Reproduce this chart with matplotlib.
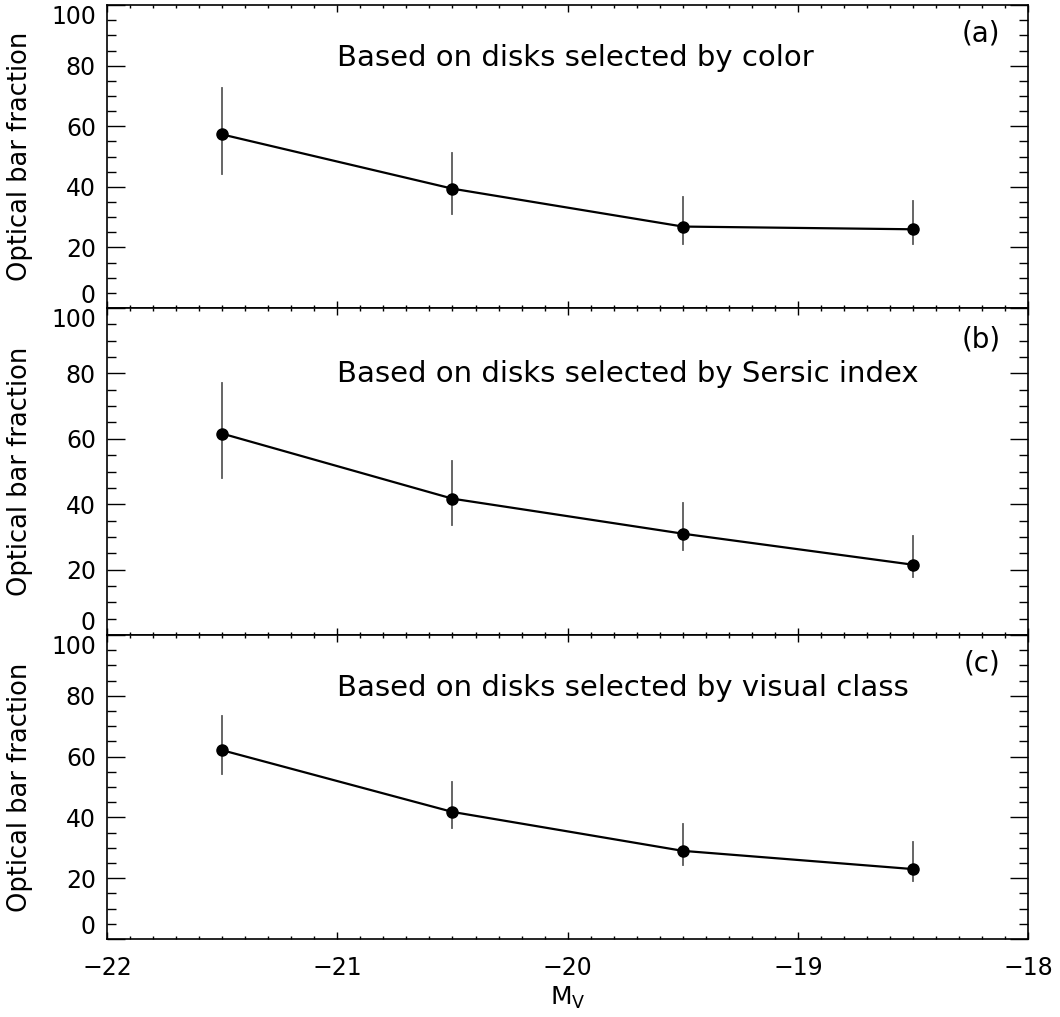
import matplotlib
matplotlib.use('Agg')
import matplotlib.pyplot as plt
from matplotlib.ticker import MultipleLocator

# Absolute magnitude bins
mv = [-21.5, -20.5, -19.5, -18.5]

# (a) disks selected by color
frac_a = [57.3, 39.4, 26.9, 26.0]
hi_a = [72.7, 51.3, 36.8, 35.5]
lo_a = [44.2, 31.2, 21.3, 21.1]

# (b) disks selected by Sersic index
frac_b = [61.6, 41.7, 31.0, 21.5]
hi_b = [77.1, 53.1, 40.4, 30.4]
lo_b = [48.0, 33.5, 25.9, 17.6]

# (c) disks selected by visual class
frac_c = [62.1, 41.8, 29.0, 23.0]
hi_c = [73.3, 51.6, 37.8, 31.9]
lo_c = [54.3, 36.5, 24.3, 19.0]

titles = ['Based on disks selected by color',
          'Based on disks selected by Sersic index',
          'Based on disks selected by visual class']
tags = ['(a)', '(b)', '(c)']

plt.rcParams['font.family'] = 'DejaVu Sans'
plt.rcParams['font.size'] = 17

fig = plt.figure(figsize=(10.6, 10.17), dpi=100)
gs = fig.add_gridspec(3, 1, height_ratios=[303, 327, 304], hspace=0,
                      left=0.101, right=0.970, top=0.995, bottom=0.0767)
axes = [fig.add_subplot(gs[i]) for i in range(3)]

panels = [(frac_a, hi_a, lo_a), (frac_b, hi_b, lo_b), (frac_c, hi_c, lo_c)]
text_y = [80, 77.5, 80]

for i, (ax, (f, hi, lo)) in enumerate(zip(axes, panels)):
    # error bars drawn as plain vertical segments (no caps)
    for x, h, l in zip(mv, hi, lo):
        ax.plot([x, x], [l, h], color='0.35', linewidth=1.3, zorder=2)
    ax.plot(mv, f, color='black', linewidth=1.6, marker='o', markersize=8,
            zorder=3)

    ax.set_xlim(-22, -18)
    ax.set_ylim(0, 100)
    ax.set_yticks([0, 20, 40, 60, 80, 100])
    ax.yaxis.set_minor_locator(MultipleLocator(5))
    ax.set_xticks([-22, -21, -20, -19, -18])
    ax.xaxis.set_minor_locator(MultipleLocator(0.1))
    ax.tick_params(axis='y', which='major', direction='in', length=13,
                   width=1.0, left=True, right=True, labelsize=17, pad=8)
    ax.tick_params(axis='y', which='minor', direction='in', length=6.5,
                   width=1.0, left=True, right=True)
    ax.tick_params(axis='x', which='major', direction='in', length=5,
                   width=1.0, top=True, bottom=True, labelsize=17, pad=12)
    ax.tick_params(axis='x', which='minor', direction='in', length=2.5,
                   width=1.0, top=True, bottom=True)
    for sp in ax.spines.values():
        sp.set_linewidth(1.2)

    # keep the end labels inside the panel, like the original
    labels = ax.get_yticklabels()
    labels[0].set_va('bottom')
    labels[-1].set_va('top')

    if i < 2:
        ax.tick_params(axis='x', labelbottom=False)

    ax.set_ylabel('Optical bar fraction', fontsize=18.5)
    ax.yaxis.set_label_coords(-0.08, 0.5)

    ax.text(-21.0, text_y[i], titles[i], fontsize=21, va='baseline',
            ha='left')
    ax.text(-18.12, 88, tags[i], fontsize=20, va='baseline', ha='right')

axes[2].set_xlabel(r'M$_\mathrm{V}$', fontsize=18, labelpad=4)

plt.savefig('out.png', dpi=100)
